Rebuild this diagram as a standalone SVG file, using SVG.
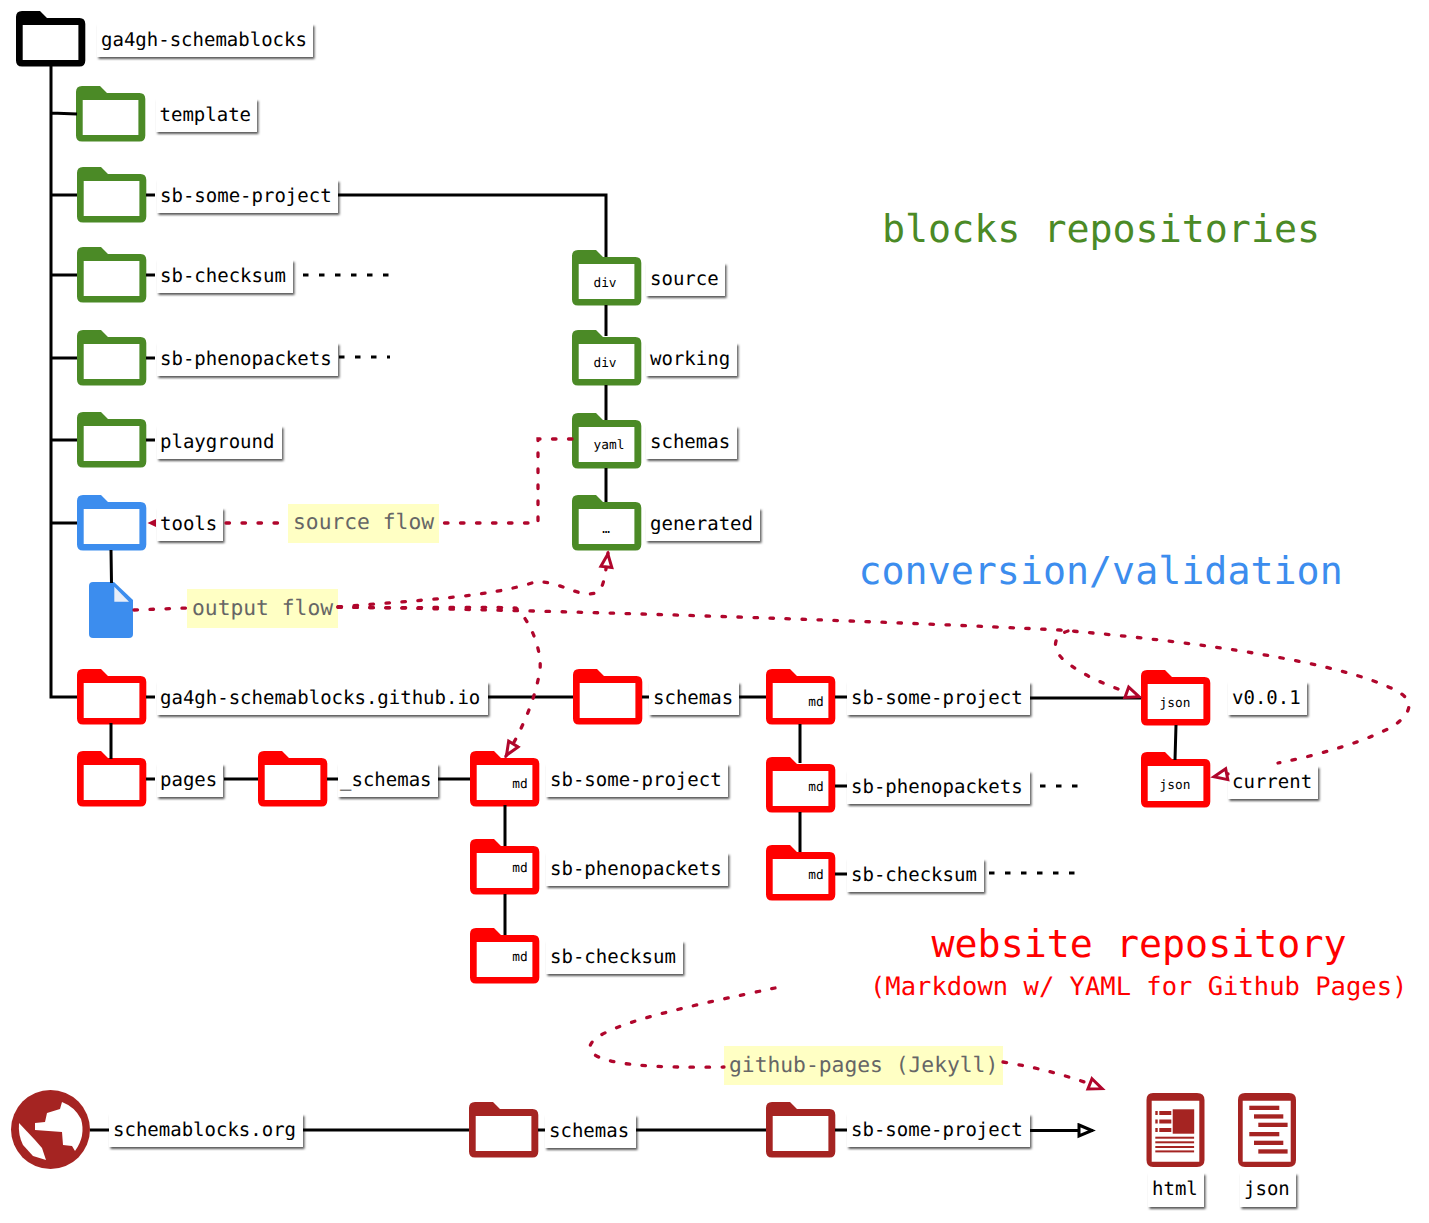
<svg xmlns="http://www.w3.org/2000/svg" width="1429" height="1223" viewBox="0 0 1429 1223">
<style>
text{font-family:"DejaVu Sans Mono","Liberation Mono",monospace;text-rendering:geometricPrecision}
.t{font-size:19px;fill:#000}
.s{font-size:12.8px;fill:#000}
.b{fill:#fff;filter:url(#sh)}
.g{fill:#4b8a26}.bl{fill:#3c8dee}.r{fill:#ff0000}.br{fill:#a52422}.k{fill:#000}
.fl{fill:#ffffc4}.ft{font-size:21.3px;fill:#666}
.h{font-size:38.3px}.sub{font-size:25.5px;fill:#ff0000}
#connectors path{fill:none;stroke:#000;stroke-width:3}
#connectors .dk{stroke-dasharray:5.500 10.500}
#connectors .d,#connectors .a{stroke:#b0062c;stroke-width:3.300;stroke-dasharray:3.500 12.500;stroke-linecap:round}
#connectors .tip{fill:#b0062c;stroke:none}
</style>
<defs>
<filter id="sh" x="-10%" y="-15%" width="125%" height="140%"><feDropShadow dx="1.500" dy="2" stdDeviation="1" flood-color="#000" flood-opacity="0.65"/></filter>
<path id="folder" fill-rule="evenodd" d="M6 0H24L31 7H63.500Q69.300 7 69.300 13V49.600Q69.300 55.600 63.500 55.600H6Q0 55.600 0 49.600V6Q0 0 6 0ZM6.700 14V49H62.400V14Z"/>
<marker id="ar" markerUnits="userSpaceOnUse" markerWidth="20" markerHeight="18" refX="16" refY="8" orient="auto"><path d="M2 2.500L15 8L2 13.500Z" fill="#fff" stroke="#b0062c" stroke-width="3"/></marker>
<marker id="ak" markerUnits="userSpaceOnUse" markerWidth="20" markerHeight="18" refX="16" refY="8" orient="auto"><path d="M2 2.500L15 8L2 13.500Z" fill="#fff" stroke="#000" stroke-width="3"/></marker>
</defs>

<g id="n-root"><use href="#folder" x="16" y="11" class="k"/><rect class="b" x="97" y="24" width="216" height="33"/><text class="t" x="101" y="46">ga4gh-schemablocks</text></g>
<g id="n-template"><use href="#folder" x="76" y="86" class="g"/><rect class="b" x="156" y="99" width="101" height="33"/><text class="t" x="159.500" y="121">template</text></g>
<g id="n-some-project"><use href="#folder" x="77" y="167" class="g"/><rect class="b" x="157" y="180" width="181" height="33"/><text class="t" x="160" y="202">sb-some-project</text></g>
<g id="n-checksum"><use href="#folder" x="77" y="247" class="g"/><rect class="b" x="157" y="260" width="136" height="33"/><text class="t" x="160" y="282">sb-checksum</text></g>
<g id="n-phenopackets"><use href="#folder" x="77" y="330" class="g"/><rect class="b" x="157" y="343" width="181" height="33"/><text class="t" x="160" y="365">sb-phenopackets</text></g>
<g id="n-playground"><use href="#folder" x="77" y="412" class="g"/><rect class="b" x="157" y="426" width="125" height="33"/><text class="t" x="160" y="448">playground</text></g>
<g id="n-tools"><use href="#folder" x="77" y="495" class="bl"/><rect class="b" x="157" y="508" width="66" height="33"/><text class="t" x="160" y="530">tools</text></g>
<g id="n-doc"><path class="bl" d="M93 582H114L133 600V634Q133 638 129 638H93Q89 638 89 634V586Q89 582 93 582Z"/><path d="M114.300 586.700V601.700H129Z" fill="#e8eef8"/></g>
<g id="n-source"><use href="#folder" x="572" y="250" class="g"/><text class="s" x="605" y="287" text-anchor="middle">div</text><rect class="b" x="646" y="263" width="79" height="33"/><text class="t" x="650" y="285">source</text></g>
<g id="n-working"><use href="#folder" x="572" y="330" class="g"/><text class="s" x="605" y="367" text-anchor="middle">div</text><rect class="b" x="646" y="343" width="91" height="33"/><text class="t" x="650" y="365">working</text></g>
<g id="n-schemas-g"><use href="#folder" x="572" y="413" class="g"/><text class="s" x="609" y="449" text-anchor="middle">yaml</text><rect class="b" x="646" y="426" width="91" height="33"/><text class="t" x="650" y="448">schemas</text></g>
<g id="n-generated"><use href="#folder" x="572" y="495" class="g"/><text class="s" x="606" y="533" text-anchor="middle">…</text><rect class="b" x="646" y="508" width="114" height="33"/><text class="t" x="650" y="530">generated</text></g>
<g id="n-io"><use href="#folder" x="77" y="669" class="r"/><rect class="b" x="157" y="682" width="331" height="33"/><text class="t" x="160" y="704">ga4gh-schemablocks.github.io</text></g>
<g id="n-pages"><use href="#folder" x="77" y="751" class="r"/><rect class="b" x="157" y="764" width="66" height="33"/><text class="t" x="160" y="786">pages</text></g>
<g id="n-_schemas"><use href="#folder" x="258" y="751" class="r"/><rect class="b" x="338" y="764" width="100" height="33"/><text class="t" x="340" y="786">_schemas</text></g>
<g id="n-md1"><use href="#folder" x="470" y="751" class="r"/><text class="s" x="520" y="788" text-anchor="middle">md</text><rect class="b" x="546" y="764" width="182" height="33"/><text class="t" x="550" y="786">sb-some-project</text></g>
<g id="n-md2"><use href="#folder" x="470" y="839" class="r"/><text class="s" x="520" y="872" text-anchor="middle">md</text><rect class="b" x="546" y="853" width="182" height="33"/><text class="t" x="550" y="875">sb-phenopackets</text></g>
<g id="n-md3"><use href="#folder" x="470" y="928" class="r"/><text class="s" x="520" y="961" text-anchor="middle">md</text><rect class="b" x="546" y="941" width="137" height="33"/><text class="t" x="550" y="963">sb-checksum</text></g>
<g id="n-schemas-r"><use href="#folder" x="573" y="669" class="r"/><rect class="b" x="649" y="682" width="90" height="33"/><text class="t" x="653" y="704">schemas</text></g>
<g id="n-md4"><use href="#folder" x="766" y="669" class="r"/><text class="s" x="816" y="706" text-anchor="middle">md</text><rect class="b" x="847" y="682" width="183" height="33"/><text class="t" x="851" y="704">sb-some-project</text></g>
<g id="n-md5"><use href="#folder" x="766" y="757" class="r"/><text class="s" x="816" y="791" text-anchor="middle">md</text><rect class="b" x="847" y="771" width="183" height="33"/><text class="t" x="851" y="793">sb-phenopackets</text></g>
<g id="n-md6"><use href="#folder" x="766" y="845" class="r"/><text class="s" x="816" y="879" text-anchor="middle">md</text><rect class="b" x="847" y="859" width="137" height="33"/><text class="t" x="851" y="881">sb-checksum</text></g>
<g id="n-json1"><use href="#folder" x="1141" y="670" class="r"/><text class="s" x="1175" y="707" text-anchor="middle">json</text><rect class="b" x="1228" y="682" width="79" height="33"/><text class="t" x="1232" y="704">v0.0.1</text></g>
<g id="n-json2"><use href="#folder" x="1141" y="752" class="r"/><text class="s" x="1175" y="789" text-anchor="middle">json</text><rect class="b" x="1228" y="766" width="90" height="33"/><text class="t" x="1232" y="788">current</text></g>
<g id="n-globe"><circle cx="50.500" cy="1129.500" r="39.500" class="br"/>
<path fill="#fff" d="M62 1102L60 1109L47 1113L45 1122L35 1123V1130L62 1132L63 1145L72 1146L75 1151Q86 1136 81 1119Q75 1107 62 1102Z"/>
<path fill="#fff" d="M19 1123L35 1140L42 1148L46 1160L33 1156L23 1145Q18 1135 19 1123Z"/>
<rect class="b" x="109" y="1114" width="194" height="33"/><text class="t" x="113" y="1136">schemablocks.org</text></g>
<g id="n-schemas-b"><use href="#folder" x="469" y="1102" class="br"/><rect class="b" x="545" y="1115" width="91" height="33"/><text class="t" x="549" y="1137">schemas</text></g>
<g id="n-some-b"><use href="#folder" x="766" y="1102" class="br"/><rect class="b" x="847" y="1114" width="183" height="33"/><text class="t" x="851" y="1136">sb-some-project</text></g>
<g id="n-html"><path class="br" fill-rule="evenodd" d="M1153 1093H1197Q1204.500 1093 1204.500 1100V1160Q1204.500 1167 1197 1167H1153Q1146.500 1167 1146.500 1160V1100Q1146.500 1093 1153 1093ZM1151.700 1100.700V1161.700H1199.300V1100.700Z"/>
<g class="br"><rect x="1172.700" y="1109.300" width="21.500" height="24.400"/><rect x="1155.300" y="1111" width="2.400" height="4"/><rect x="1159.300" y="1111" width="12" height="4"/><rect x="1155.300" y="1119.500" width="2.400" height="4"/><rect x="1159.300" y="1119.500" width="12" height="4"/><rect x="1155.300" y="1128" width="2.400" height="4"/><rect x="1159.300" y="1128" width="12" height="4"/><rect x="1155.300" y="1136.700" width="38.800" height="2"/><rect x="1155.300" y="1141.300" width="38.800" height="2"/><rect x="1155.300" y="1146" width="38.800" height="2"/><rect x="1155.300" y="1150.400" width="38.800" height="2"/></g>
<rect class="b" x="1148" y="1173" width="56" height="34"/><text class="t" x="1152" y="1195">html</text></g>
<g id="n-json"><path class="br" fill-rule="evenodd" d="M1245 1093H1289Q1296 1093 1296 1100V1160Q1296 1167 1289 1167H1245Q1238 1167 1238 1160V1100Q1238 1093 1245 1093ZM1242.700 1100.700V1161.700H1290.700V1100.700Z"/>
<g class="br"><rect x="1249.300" y="1105.700" width="30" height="4.300"/><rect x="1254" y="1114.300" width="29.300" height="4.300"/><rect x="1258.300" y="1122.700" width="29.300" height="4.300"/><rect x="1249.300" y="1132" width="30" height="4.300"/><rect x="1254" y="1140.700" width="29.300" height="4.300"/><rect x="1258.300" y="1149.300" width="29.300" height="4.300"/></g>
<rect class="b" x="1240" y="1173" width="56" height="34"/><text class="t" x="1244" y="1195">json</text></g>

<g id="flow-labels">
<rect class="fl" x="288" y="504" width="151" height="39"/><text class="ft" x="293" y="529">source flow</text>
<rect class="fl" x="187" y="589" width="151" height="39"/><text class="ft" x="192" y="615">output flow</text>
<rect class="fl" x="724" y="1046" width="279" height="39"/><text class="ft" x="729" y="1072">github-pages (Jekyll)</text>
</g>
<g id="headings">
<text class="h" x="882" y="242" fill="#4b8a26">blocks repositories</text>
<text class="h" x="858.500" y="584" fill="#3c8dee">conversion/validation</text>
<text class="h" x="931.500" y="957" fill="#ff0000">website repository</text>
<text class="sub" x="870" y="995">(Markdown w/ YAML for Github Pages)</text>
</g>

<g id="connectors">
<path d="M51 66V697H77M51 113L77 114M51 195H77M51 275H77M51 358H77M51 440H77M51 523H77"/>
<path d="M146 195H155M146 275H155M146 358H155M146 440H155M146 697H155M146 779H155"/>
<path d="M338 195H606V257M606 305V336M606 385V420M606 468V502"/>
<path class="dk" d="M303 275H390M339 357H390M1040 786H1080M989 873H1075"/>
<path d="M111 550L111.500 583M111 723V759M224 779H258M327 779H338M438 779H470M505 805V846M505 894V935"/>
<path d="M488 697H573M642 697H649M739 697H766M835 697H847M1030 698H1141M835 786H847M835 874H847M800 724V763M800 812V852M1176 725L1175 760"/>
<path d="M90 1130H109M303 1130H469M538 1130H545M636 1130H766M835 1130H847"/>
<path marker-end="url(#ak)" d="M1030 1130.500H1093"/>
<path class="d" d="M572 439H538V523H443"/>
<path class="d" d="M226 523H288"/>
<path class="tip" d="M156 519L147.500 523L156 527Z"/>
<path class="d" d="M134 610L187 608"/>
<path class="a" marker-end="url(#ar)" d="M338 607C420 600 490 597 535 582C560 580 580 600 598 592C604 588 606 570 608 553"/>
<path class="a" marker-end="url(#ar)" d="M338 607C400 609 470 606 516 608C530 620 542 650 540 670C535 700 522 730 506 756"/>
<path class="d" d="M338 607C600 611 900 622 1060 630C1200 642 1340 662 1395 690C1415 700 1412 712 1395 725C1370 740 1320 755 1278 763"/>
<path class="a" marker-end="url(#ar)" d="M1068 631C1052 636 1052 650 1064 660C1085 678 1115 688 1140 697"/>
<path class="a" marker-end="url(#ar)" d="M1228 774L1213 777"/>
<path class="d" d="M775 988C700 1004 588 1026 590 1048C592 1066 660 1068 724 1067"/>
<path class="a" marker-end="url(#ar)" d="M1003 1062C1040 1068 1070 1076 1103 1089"/>
</g>
</svg>
